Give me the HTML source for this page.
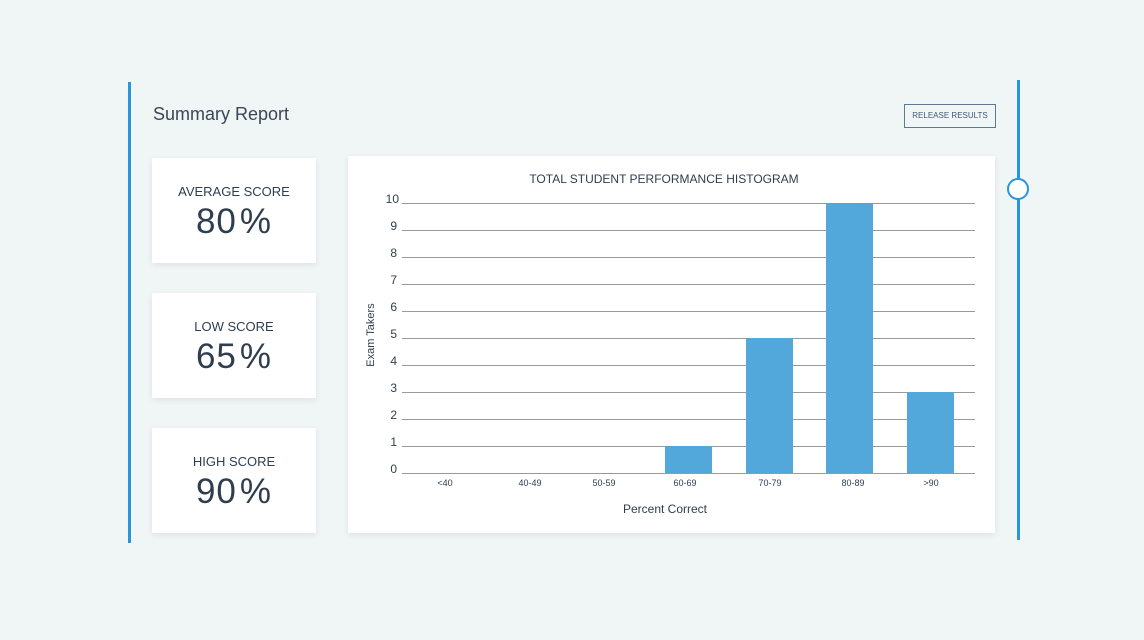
<!DOCTYPE html><html><head><style>
body{margin:0;width:1144px;height:640px;background:#f0f5f6;font-family:"Liberation Sans",sans-serif;position:relative;overflow:hidden;color:#2f3e4e}
.a{position:absolute}
.card{position:absolute;left:152px;width:164px;height:105px;background:#fff;box-shadow:0 2px 6px rgba(0,0,0,.08);text-align:center}
.card .l{margin-top:26px;font-size:13px;color:#2f3e4e}
.card .v{font-size:35px;margin-top:3px;color:#2f3e4e;letter-spacing:1px}
.card .v span{margin-left:3px}
</style></head><body>
<div class="a" style="left:128px;top:82px;width:3px;height:461px;background:#2a95db"></div>
<div class="a" style="left:1017px;top:80px;width:3px;height:460px;background:#2a95db"></div>
<div class="a" style="left:1007px;top:178px;width:18px;height:18px;border:2.5px solid #2a95db;border-radius:50%;background:#fff"></div>
<div class="a" style="left:153px;top:104px;font-size:18px;color:#3a4756">Summary Report</div>
<div class="a" style="left:904px;top:104px;width:90px;height:22px;border:1px solid #5a7a98;font-size:8px;line-height:22px;text-align:center;color:#3e5a78">RELEASE RESULTS</div>
<div class="card" style="top:158px"><div class="l">AVERAGE SCORE</div><div class="v">80<span>%</span></div></div>
<div class="card" style="top:293px"><div class="l">LOW SCORE</div><div class="v">65<span>%</span></div></div>
<div class="card" style="top:428px"><div class="l">HIGH SCORE</div><div class="v">90<span>%</span></div></div>
<div class="a" style="left:348px;top:156px;width:647px;height:377px;background:#fff;box-shadow:0 2px 6px rgba(0,0,0,.08)"></div>
<svg class="a" style="left:0;top:0" width="1144" height="640" font-family="Liberation Sans" fill="#2f3e4e">
<text x="664" y="183" font-size="12" text-anchor="middle">TOTAL STUDENT PERFORMANCE HISTOGRAM</text>
<g stroke="#9a9a9a" stroke-width="1">
<line x1="402" x2="975" y1="203.5" y2="203.5"/><line x1="402" x2="975" y1="230.5" y2="230.5"/><line x1="402" x2="975" y1="257.5" y2="257.5"/><line x1="402" x2="975" y1="284.5" y2="284.5"/><line x1="402" x2="975" y1="311.5" y2="311.5"/><line x1="402" x2="975" y1="338.5" y2="338.5"/><line x1="402" x2="975" y1="365.5" y2="365.5"/><line x1="402" x2="975" y1="392.5" y2="392.5"/><line x1="402" x2="975" y1="419.5" y2="419.5"/><line x1="402" x2="975" y1="446.5" y2="446.5"/><line x1="402" x2="975" y1="473.5" y2="473.5"/>
</g>
<g font-size="12" text-anchor="end">
<text x="399" y="203">10</text><text x="397" y="230">9</text><text x="397" y="257">8</text><text x="397" y="284">7</text><text x="397" y="311">6</text><text x="397" y="338">5</text><text x="397" y="365">4</text><text x="397" y="392">3</text><text x="397" y="419">2</text><text x="397" y="446">1</text><text x="397" y="473">0</text>
</g>
<g fill="#52a7db">
<rect x="665" y="446" width="47" height="27"/><rect x="746" y="338" width="47" height="135"/><rect x="826" y="203" width="47" height="270"/><rect x="907" y="392" width="47" height="81"/>
</g>
<g font-size="9" text-anchor="middle">
<text x="445" y="486">&lt;40</text><text x="530" y="486">40-49</text><text x="604" y="486">50-59</text><text x="685" y="486">60-69</text><text x="770" y="486">70-79</text><text x="853" y="486">80-89</text><text x="931" y="486">&gt;90</text>
</g>
<text x="665" y="513" font-size="12" text-anchor="middle">Percent Correct</text>
<text transform="translate(374,335) rotate(-90)" font-size="11" text-anchor="middle">Exam Takers</text>
</svg>
</body></html>
